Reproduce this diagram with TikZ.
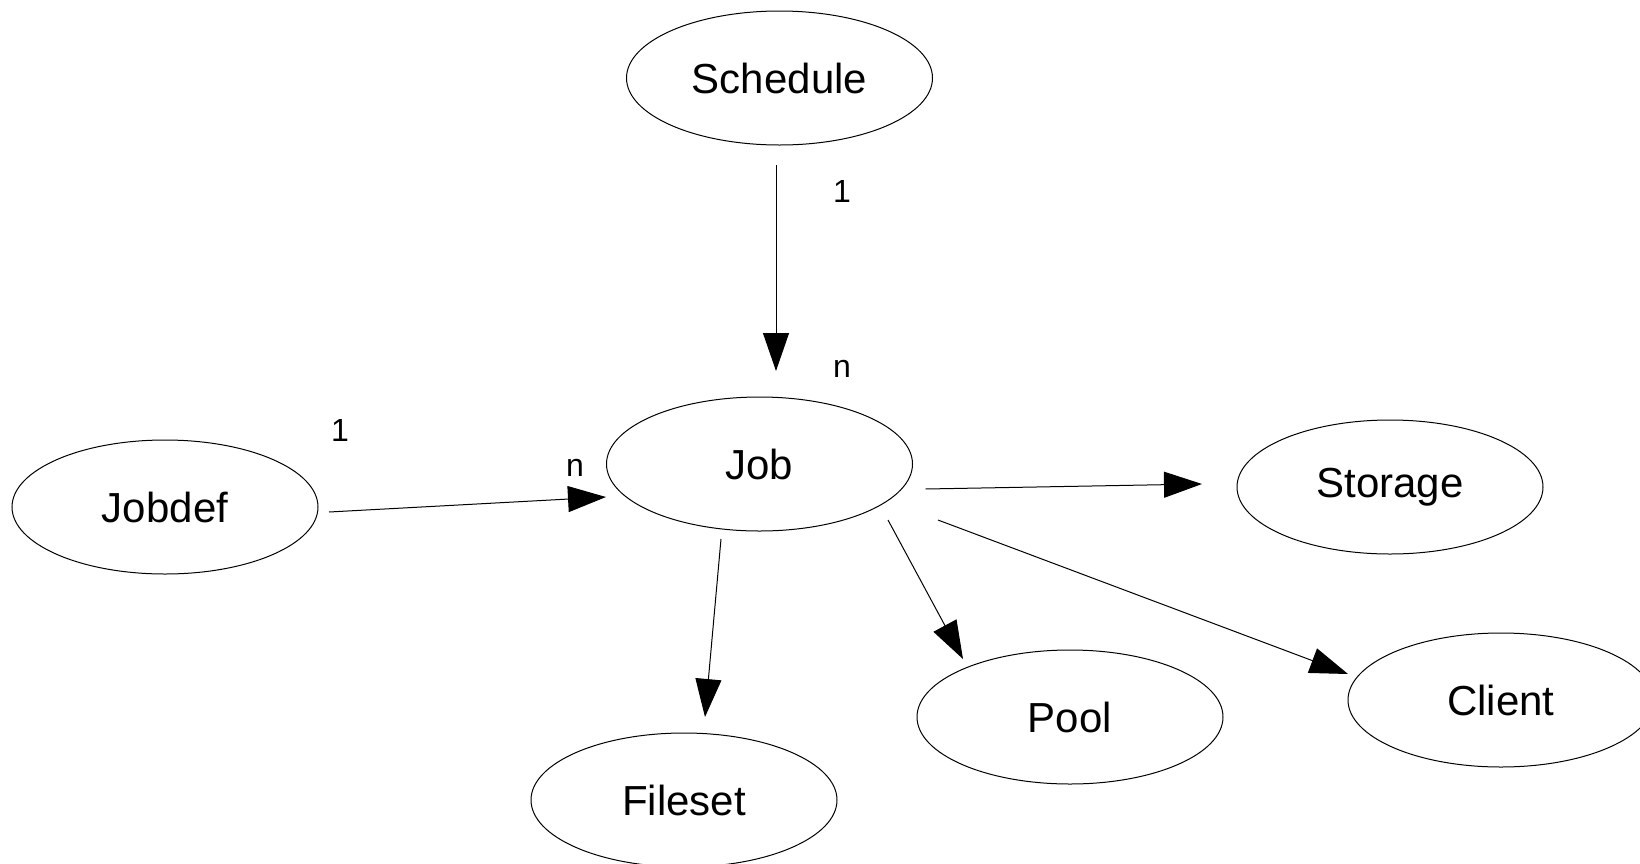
\documentclass[tikz,border=0pt]{standalone}
\usepackage{fontspec}
\setmainfont{Liberation Sans}
\usetikzlibrary{calc,arrows.meta,shapes.geometric}

\begin{document}
\begin{tikzpicture}[
  x=0.5pt, y=-0.5pt,
  ent/.style={draw, ellipse, line width=0.5pt, minimum width=153pt,
              minimum height=67pt, inner sep=0pt,
              font=\fontsize{21}{25}\selectfont},
  arr/.style={-{Triangle[length=19pt, width=13pt]}, line width=0.5pt},
  lab/.style={font=\fontsize{16}{18}\selectfont}
]
\useasboundingbox (0,0) rectangle (1640,863);

% ---------------- entities ----------------
\node[ent] (schedule) at (779.5,78) {Schedule};
\node[ent] (job)      at (759.5,464) {Job};
\node[ent] (jobdef)   at (165,507) {Jobdef};
\node[ent] (storage)  at (1390,487) {Storage};
\node[ent] (pool)     at (1070,717) {Pool};
\node[ent] (client)   at (1501,700) {Client};
\node[ent] (fileset)  at (684,800) {Fileset};

% ---------------- relations ----------------
\draw[arr] ($(schedule)+(-3.5,87)$) -- ($(job)+(16.5,-93)$);
\draw[arr] ($(jobdef)+(164,5)$) -- ($(job)+(-153.5,33)$);
\draw[arr] ($(job)+(166,25)$) -- ($(storage)+(-188,-3)$);
\draw[arr] ($(job)+(-38.5,75)$) -- ($(fileset)+(21,-83)$);
\draw[arr] ($(job)+(128.5,56)$) -- ($(pool)+(-107,-58)$);
\draw[arr] ($(job)+(178.5,56)$) -- ($(client)+(-153,-26)$);

% ---------------- cardinalities ----------------
\node[lab] (card1) at (842,191) {1};
\node[lab] (card2) at (842,369) {n};
\node[lab] (card3) at (340,430) {1};
\node[lab] (card4) at (575,468) {n};

\end{tikzpicture}
\end{document}
